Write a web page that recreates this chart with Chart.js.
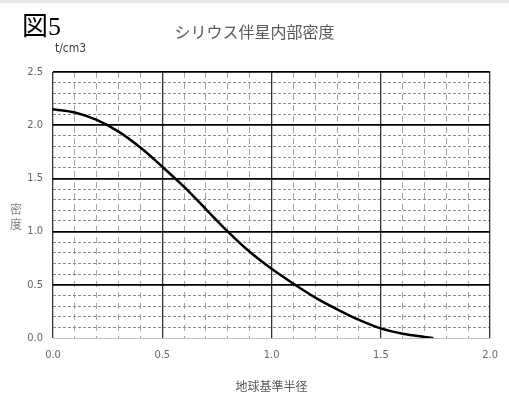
<!DOCTYPE html>
<html>
<head>
<meta charset="utf-8">
<script src="https://cdn.jsdelivr.net/npm/chart.js@4/dist/chart.umd.min.js"></script>
<style>
  html, body { margin: 0; padding: 0; background: #fff; }
  #wrap { position: relative; width: 509px; height: 415px; border-top: 3px solid #e6e6e6; box-sizing: border-box; }
  canvas { position: absolute; left: 0; top: 0; }
  .lbl { position: absolute; white-space: nowrap; }
  #fig { left: 22px; top: 2px; font: 26px 'Liberation Serif', 'Noto Sans CJK JP', serif; color: #000; }
  #title { left: 0; width: 509px; top: 16px; text-align: center; font: 16px 'Noto Sans CJK JP', sans-serif; color: #595959; }
  #unit { left: 55px; top: 38px; font: 12px 'DejaVu Sans Condensed', 'Noto Sans', sans-serif; color: #404040; }
</style>
</head>
<body>
<div id="wrap">
  <canvas id="chart" width="509" height="412"></canvas>
  <div class="lbl" id="fig">図5</div>
  <div class="lbl" id="title">シリウス伴星内部密度</div>
  <div class="lbl" id="unit">t/cm3</div>
</div>
<script>
// radius (earth radii) and density (t/cm3)
const radius  = [0, 0.1, 0.2, 0.3, 0.4, 0.5, 0.6, 0.7, 0.8, 0.9, 1.0, 1.1, 1.2, 1.3, 1.4, 1.5, 1.6, 1.7, 1.74];
const density = [2.15, 2.12, 2.05, 1.94, 1.79, 1.61, 1.42, 1.21, 1.00, 0.81, 0.65, 0.51, 0.38, 0.27, 0.17, 0.09, 0.04, 0.01, 0.0];

const xTicks = [0, 0.5, 1.0, 1.5, 2.0];
const yTicks = [0, 0.5, 1.0, 1.5, 2.0, 2.5];
const yTitle = ['密', '度'];

const isMajor = v => Math.abs(v * 2 - Math.round(v * 2)) < 1e-6;
const tickFont = { family: "'DejaVu Sans Condensed', 'Noto Sans', sans-serif", size: 11 };

// y title written top-to-bottom, one character per line
const stackedTitle = {
  id: 'stackedTitle',
  afterDraw(chart) {
    const { ctx, chartArea } = chart;
    const mid = (chartArea.top + chartArea.bottom) / 2 + 12;
    ctx.save();
    ctx.font = "12px 'Noto Sans CJK JP', sans-serif";
    ctx.fillStyle = '#7f7f7f';
    ctx.textAlign = 'center';
    ctx.textBaseline = 'middle';
    yTitle.forEach((ch, i) => {
      ctx.fillText(ch, 16, mid + (i - (yTitle.length - 1) / 2) * 15);
    });
    ctx.restore();
  }
};

new Chart(document.getElementById('chart'), {
  type: 'line',
  data: {
    datasets: [{
      data: radius.map((r, i) => ({ x: r, y: density[i] })),
      borderColor: '#000',
      borderWidth: 2.5,
      pointRadius: 0,
      cubicInterpolationMode: 'monotone',
      fill: false
    }]
  },
  options: {
    responsive: false,
    animation: false,
    layout: { padding: { top: 69, right: 16, left: 0, bottom: 17 } },
    plugins: { legend: { display: false }, tooltip: { enabled: false } },
    scales: {
      x: {
        type: 'linear', position: 'bottom', min: 0, max: 2,
        afterBuildTicks: s => { s.ticks = xTicks.map(v => ({ value: v })); },
        afterFit: s => { s.height = 60; },
        ticks: { color: '#666', font: tickFont, padding: 11, callback: v => v.toFixed(1) },
        grid: { color: '#333', lineWidth: 1.3, drawTicks: false },
        border: { display: false },
        title: { display: true, text: '地球基準半径', color: '#595959',
                 font: { family: "'Noto Sans CJK JP', sans-serif", size: 12 }, padding: { top: 6 } }
      },
      y: {
        type: 'linear', position: 'left', min: 0, max: 2.5,
        afterBuildTicks: s => { s.ticks = yTicks.map(v => ({ value: v })); },
        afterFit: s => { s.width = 53; },
        ticks: { color: '#666', font: tickFont, padding: 10, callback: v => v.toFixed(1) },
        grid: {
          color: c => c.tick && c.tick.value === 0 ? '#bfbfbf' : '#000',
          lineWidth: c => c.tick && c.tick.value === 0 ? 1 : 1.8,
          drawTicks: false
        },
        border: { display: false }
      },
      x2: {
        type: 'linear', position: 'top', min: 0, max: 2,
        afterFit: s => { s.height = 0; },
        ticks: { display: false, stepSize: 0.1 },
        grid: {
          z: -2, drawTicks: false, lineWidth: 1,
          color: c => c.tick && isMajor(c.tick.value) ? 'rgba(0,0,0,0)' : '#a6a6a6'
        },
        border: { display: false, dash: [6, 5] }
      },
      y2: {
        type: 'linear', position: 'right', min: 0, max: 2.5,
        afterFit: s => { s.width = 0; },
        ticks: { display: false, stepSize: 0.1 },
        grid: {
          z: -2, drawTicks: false, lineWidth: 1,
          color: c => c.tick && isMajor(c.tick.value) ? 'rgba(0,0,0,0)' : '#8c8c8c'
        },
        border: { display: false, dash: [3, 2] }
      }
    }
  },
  plugins: [stackedTitle]
});
</script>
</body>
</html>
